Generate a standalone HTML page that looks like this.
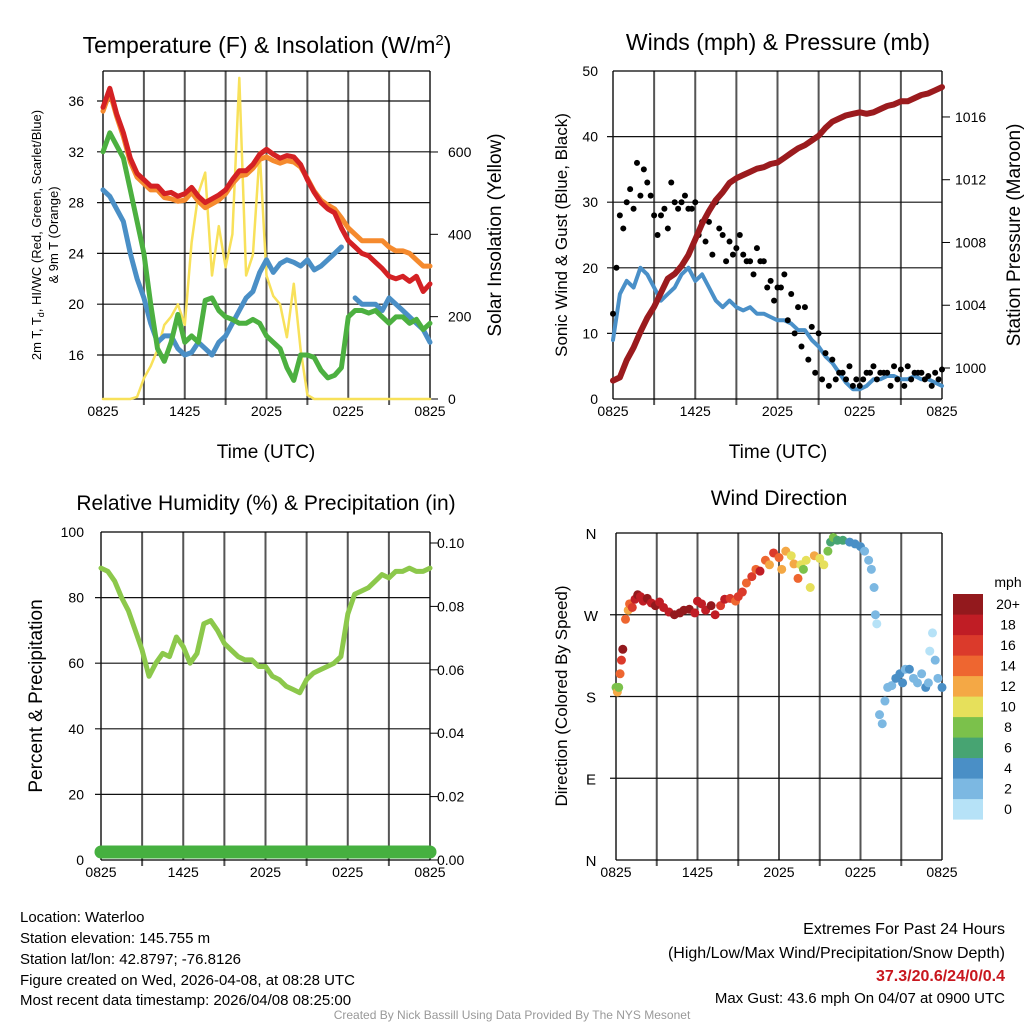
<!DOCTYPE html>
<html><head><meta charset="utf-8"><style>
html,body{margin:0;padding:0;background:#fff}
svg{display:block;font-family:"Liberation Sans",Arial,sans-serif}
</style></head><body>
<svg id="chart" width="1024" height="1024" viewBox="0 0 1024 1024" xmlns="http://www.w3.org/2000/svg">
<rect width="1024" height="1024" fill="#fff"/>
<g id="layer"></g>
<g font-size="15" fill="#000">
<text x="20" y="922">Location: Waterloo</text>
<text x="20" y="943">Station elevation: 145.755 m</text>
<text x="20" y="964">Station lat/lon: 42.8797; -76.8126</text>
<text x="20" y="985">Figure created on Wed, 2026-04-08, at 08:28 UTC</text>
<text x="20" y="1005">Most recent data timestamp: 2026/04/08 08:25:00</text>
<text x="1005" y="934" text-anchor="end" font-size="16">Extremes For Past 24 Hours</text>
<text x="1005" y="958" text-anchor="end" font-size="16">(High/Low/Max Wind/Precipitation/Snow Depth)</text>
<text x="1005" y="981" text-anchor="end" font-size="16" font-weight="bold" fill="#c8171e">37.3/20.6/24/0/0.4</text>
<text x="1005" y="1003" text-anchor="end" font-size="15">Max Gust: 43.6 mph On 04/07 at 0900 UTC</text>
<text x="512" y="1019" text-anchor="middle" font-size="12" fill="#999">Created By Nick Bassill Using Data Provided By The NYS Mesonet</text>
</g>
</svg>
<script>
// ---- data (half-hourly, hours since 0825 UTC) ----
const xTickLabels = ["0825","1425","2025","0225","0825"];
const tempRed = [35.5,37,35,33.5,31.5,30.3,29.8,29.3,29.3,28.7,28.8,28.5,28.7,29.2,28.5,28,28.3,28.6,29,29.8,30.5,30.5,31,31.8,32.2,31.8,31.5,31.7,31.6,31,29.8,28.8,28,27.5,27.2,26,25,24.5,24,23.8,23.3,22.8,22.2,22,22.2,21.8,22.2,21,21.6];
const tempOrange = [35.2,36.7,34.8,33.2,31.2,30,29.5,29,29,28.4,28.3,28.1,28.2,28.8,28.1,27.6,27.9,28.2,28.7,29.5,30.1,30.2,30.7,31.4,31.6,31.3,31.1,31.3,31.2,30.8,29.9,28.9,28.2,27.8,27.5,26.8,26,25.5,25,25,25,25,24.5,24.2,24.2,24,23.5,23,23];
const tempGreen = [32,33.5,32.5,31.5,29,26.5,24,20,16.5,15.5,17,19.2,17,17.5,17,20.3,20.5,19.5,19,18.8,18.5,18.5,18.8,18.5,17.5,17,16.5,15,14,16,16,15.8,14.8,14.2,14.4,15,19,19.5,19.5,19.3,19.5,19,18.5,19,19,18.5,18.8,18,18.5];
const tempBlue = [29,28.5,27.5,26.5,24,22,20.5,18.5,17,17.5,17.5,16.5,16,16.2,17,16.5,16,17,17.5,18.5,19.5,20.5,21,22.5,23.5,22.5,23.2,23.5,23.3,23,23.5,22.7,23,23.5,24,24.5,null,20.5,20,20,20,19.5,20.5,20,19.5,19,18.5,18,17];
const solar = [0,0,0,0,0,5,50,80,120,180,200,230,180,380,500,550,300,420,320,400,780,300,350,600,300,250,230,150,280,120,10,0,0,0,0,0,0,0,0,0,0,0,0,0,0,0,0,0,0];
const windSpeed = [9,16,18,17,20,19,17,15,16,17,19,20,18,19,17,15,14,15,14,13.5,14,13,13,12.5,12,12,11.5,10.5,10.5,9,8,6.5,5.5,4,2.5,1.5,1.5,2,3,3,3.5,3.5,3,3,3.5,3,3,2.5,2];
const gustA = [13,28,30,29,31,33,28,28,26,30,30,29,30,27,27,30,25,24,23,22,21,23,21,18,17,19,16,14,14,11,10,7,6,4,3,2,2,4,5,4,4,5,4.5,5,4,4,3.5,4,4.5];
const gustB = [20,26,32,36,35,31,25,29,33,29,31,29,25,24,22,26,21,22,25,21,19,21,17,15,17,12,10,8,6,4,3,2,3,4,5,3,3,4,3,4,2,3,2,3,4,3,2,3];
const pressure = [999.2,999.4,1000.5,1001.3,1002.3,1003.2,1003.9,1004.8,1005.7,1006,1006.5,1007.2,1008.2,1009.2,1010,1010.7,1011.2,1011.8,1012.1,1012.3,1012.5,1012.7,1012.8,1013,1013.1,1013.4,1013.7,1014,1014.2,1014.5,1014.8,1015.3,1015.7,1015.9,1016.1,1016.2,1016.3,1016.2,1016.3,1016.5,1016.7,1016.8,1017,1017,1017.2,1017.4,1017.5,1017.7,1017.9];
const rh = [89,88,85,80,76,70,64,56,60,63,62,68,65,60,63,72,73,70,66,64,62,61,61,59,59,56,55,53,52,51,55,57,58,59,60,62,75,81,82,83,85,87,86,88,88,89,88,88,89];
const precip = [0,0,0,0,0,0,0,0,0,0,0,0,0,0,0,0,0,0,0,0,0,0,0,0,0,0,0,0,0,0,0,0,0,0,0,0,0,0,0,0,0,0,0,0,0,0,0,0,0];
const dirHours = [0,0.1,0.2,0.3,0.4,0.5,0.7,0.9,1,1.2,1.4,1.6,1.8,2,2.3,2.6,2.9,3.2,3.5,3.9,4.3,4.7,5,5.4,5.8,6,6.3,6.6,7,7.3,7.7,8,8.4,8.8,9,9.3,9.6,10,10.3,10.6,11,11.3,11.6,12,12.2,12.5,12.9,13.1,13.4,13.6,13.8,14,14.3,14.6,15,15.3,15.6,15.8,16,16.3,16.7,17.2,17.6,18,18.3,18.6,18.8,19,19.1,19.2,19.4,19.6,19.8,20,20.3,20.6,20.9,21.1,21.3,21.6,21.9,22.2,22.5,22.8,23,23.1,23.3,23.5,23.7,24];
const dirDeg = [190,185,190,205,220,232,265,275,282,278,287,292,290,285,288,283,280,284,278,273,270,272,275,276,272,285,282,275,280,270,280,287,288,285,290,295,305,312,320,318,330,325,338,333,320,340,335,326,310,325,320,330,300,335,332,325,340,350,355,352,352,350,348,345,340,330,320,300,270,260,160,150,175,190,192,200,205,195,210,210,200,195,205,190,195,230,250,220,200,190];
const dirSpeed = [8,12,8,14,16,20,14,12,13,16,18,20,18,17,19,18,20,18,17,18,20,20,19,20,18,18,17,18,19,18,16,17,16,14,16,15,14,15,13,17,14,12,16,13,12,12,10,11,14,9,7,9,10,11,10,10,7,6,8,5,6,4,4,3,2,2,2,1,1,0,1,2,1,1,2,4,4,3,2,3,2,2,2,3,2,0,0,1,2,4];
const speedColors = ["#b6e2f7","#7cb8e2","#4a8fc6","#47a472","#7bc14b","#e6e05b","#f4a845","#ee6630","#db3a2b","#c01d25","#93191d"];
const speedLabels = ["0","2","4","6","8","10","12","14","16","18","20+"];

const NS="http://www.w3.org/2000/svg";
const layer=document.getElementById('layer');
function mk(tag,attrs,parent){const e=document.createElementNS(NS,tag);for(const k in attrs)e.setAttribute(k,attrs[k]);(parent||layer).appendChild(e);return e;}
function txt(s,attrs,parent){const e=mk('text',attrs,parent);e.textContent=s;return e;}

function frame(g,P,hLines,rightMinor){
  // vertical grid
  for(let k=0;k<=8;k++){const x=P.x0+(P.x1-P.x0)*k/8;
    const l=mk('line',{x1:x,y1:P.y0,x2:x,y2:P.y1+(k%2==0?0:6),stroke:'#555','stroke-width':2},g);
    }
  hLines.forEach(y=>{const l=mk('line',{x1:P.x0-6,y1:y,x2:P.x1,y2:y,stroke:'#111','stroke-width':1.2},g);
    });
  mk('line',{x1:P.x0,y1:P.y0,x2:P.x1,y2:P.y0,stroke:'#000','stroke-width':1.2},g);
  mk('line',{x1:P.x0,y1:P.y1,x2:P.x1,y2:P.y1,stroke:'#000','stroke-width':1.2},g);
  xTickLabels.forEach((s,k)=>{const t=txt(s,{x:P.x0+(P.x1-P.x0)*k/4,y:P.y1+17,'font-size':14,'text-anchor':'middle'},g);
    });
}
function linePath(g,vals,xf,yf,color,w,name){
  let d='',pen=false;
  vals.forEach((v,i)=>{if(v===null){pen=false;return;}d+=(pen?'L':'M')+xf(i/2).toFixed(1)+' '+yf(v).toFixed(1);pen=true;});
  const p=mk('path',{d:d,fill:'none',stroke:color,'stroke-width':w,'stroke-linejoin':'round','stroke-linecap':'round'},g);
  return p;
}

// ---------- Panel 1: Temperature ----------
{
  const g=mk('g',{});
  const P={x0:103,x1:430,y0:71,y1:399};
  const X=h=>P.x0+(P.x1-P.x0)*h/24;
  const Y=v=>101+(36-v)*12.7;
  const YS=v=>399-v*0.4117;
  const yt=[16,20,24,28,32,36];
  frame(g,P,yt.map(Y));
  yt.forEach(v=>{const t=txt(String(v),{x:84,y:Y(v)+5,'font-size':14,'text-anchor':'end'},g);});
  [0,200,400,600].forEach(v=>{mk('line',{x1:P.x1,y1:YS(v),x2:P.x1+8,y2:YS(v),stroke:'#000'},g);const t=txt(String(v),{x:448,y:YS(v)+5,'font-size':14},g);});
  linePath(g,solar,X,YS,'#f8e15a',2.5,'solar-line');
  linePath(g,tempBlue,X,Y,'#4a8fc6',5,'hiwc-line');
  linePath(g,tempGreen,X,Y,'#4cb040',5,'dewpoint-line');
  linePath(g,tempOrange,X,Y,'#f58a2e',5,'temp-9m-line');
  linePath(g,tempRed,X,Y,'#d42124',5,'temp-2m-line');
  const t1=txt('',{x:267,y:53,'font-size':23,'text-anchor':'middle'},g);
  t1.innerHTML='Temperature (F) &amp; Insolation (W/m<tspan dy="-8" font-size="15">2</tspan><tspan dy="8">)</tspan>';
  const a=txt('',{transform:'translate(41,235) rotate(-90)','font-size':13,'text-anchor':'middle'},g);
  a.innerHTML='2m T, T<tspan dy="3" font-size="9">d</tspan><tspan dy="-3">, HI/WC (Red, Green, Scarlet/Blue)</tspan>';
  
  const a2=txt('& 9m T (Orange)',{transform:'translate(58,235) rotate(-90)','font-size':13,'text-anchor':'middle'},g);
  
  const r=txt('Solar Insolation (Yellow)',{transform:'translate(501,235) rotate(-90)','font-size':19,'text-anchor':'middle'},g);
  
  const xt=txt('Time (UTC)',{x:266,y:458,'font-size':19,'text-anchor':'middle'},g);
  
}

// ---------- Panel 2: Winds ----------
{
  const g=mk('g',{});
  const P={x0:613,x1:942,y0:71,y1:399};
  const X=h=>P.x0+(P.x1-P.x0)*h/24;
  const Y=v=>399-v*6.56;
  const YP=v=>368-(v-1000)*15.69;
  frame(g,P,[10,20,30,40].map(Y));
  [0,10,20,30,40,50].forEach(v=>{const t=txt(String(v),{x:598,y:Y(v)+5,'font-size':14,'text-anchor':'end'},g);});
  [1000,1004,1008,1012,1016].forEach(v=>{mk('line',{x1:P.x1,y1:YP(v),x2:P.x1+8,y2:YP(v),stroke:'#000'},g);const t=txt(String(v),{x:955,y:YP(v)+5,'font-size':14},g);});
  linePath(g,windSpeed,X,Y,'#4a90c8',4,'wind-speed-line');
  gustA.forEach((v,i)=>{const c=mk('circle',{cx:X(i/2),cy:Y(v),r:3,fill:'#000'},g);});
  gustB.forEach((v,i)=>{const c=mk('circle',{cx:X(i/2+0.25),cy:Y(v),r:3,fill:'#000'},g);});
  linePath(g,pressure,X,YP,'#9b1b1e',6,'pressure-line');
  const t1=txt('Winds (mph) & Pressure (mb)',{x:778,y:50,'font-size':23,'text-anchor':'middle'},g);
  const a=txt('Sonic Wind & Gust (Blue, Black)',{transform:'translate(567,235) rotate(-90)','font-size':17,'text-anchor':'middle'},g);
  const r=txt('Station Pressure (Maroon)',{transform:'translate(1020,235) rotate(-90)','font-size':19,'text-anchor':'middle'},g);
  const xt=txt('Time (UTC)',{x:778,y:458,'font-size':19,'text-anchor':'middle'},g);
}

// ---------- Panel 3: RH ----------
{
  const g=mk('g',{});
  const P={x0:101,x1:430,y0:532,y1:860};
  const X=h=>P.x0+(P.x1-P.x0)*h/24;
  const Y=v=>860-v*3.28;
  const YR=v=>860-v*3170;
  frame(g,P,[20,40,60,80].map(Y));
  [0,20,40,60,80,100].forEach(v=>{const t=txt(String(v),{x:84,y:Y(v)+5,'font-size':14,'text-anchor':'end'},g);});
  [0,0.02,0.04,0.06,0.08,0.10].forEach(v=>{mk('line',{x1:P.x1,y1:YR(v),x2:P.x1+8,y2:YR(v),stroke:'#000'},g);const t=txt(v.toFixed(2),{x:437,y:YR(v)+5,'font-size':14},g);});
  linePath(g,rh,X,Y,'#8cc84b',5,'rh-line');
  linePath(g,precip.map(v=>v),X,v=>YR(v)-8,'#46b040',13,'precip-line');
  const t1=txt('Relative Humidity (%) & Precipitation (in)',{x:266,y:510,'font-size':21,'text-anchor':'middle'},g);
  const a=txt('Percent & Precipitation',{transform:'translate(42,696) rotate(-90)','font-size':19,'text-anchor':'middle'},g);
}

// ---------- Panel 4: Wind Direction ----------
{
  const g=mk('g',{});
  const P={x0:616,x1:942,y0:533,y1:860};
  const X=h=>P.x0+(P.x1-P.x0)*h/24;
  const Y=d=>860-d*(327/360);
  frame(g,P,[90,180,270].map(Y));
  ["N","E","S","W","N"].forEach((s,k)=>{const t=txt(s,{x:591,y:Y(k*90)+6,'font-size':15,'text-anchor':'middle'},g);});
  dirHours.forEach((h,i)=>{const ci=Math.min(10,Math.round(dirSpeed[i]/2));
    const c=mk('circle',{cx:X(h),cy:Y(dirDeg[i]),r:4.5,fill:speedColors[ci]},g);
    });
  const cb=mk('g',{},g);
  for(let k=0;k<11;k++){const y=594+(10-k)*20.5;
    const r=mk('rect',{x:953,y:y,width:30,height:20.6,fill:speedColors[k]},cb);
    const t=txt(speedLabels[k],{x:1008,y:y+15,'font-size':14,'text-anchor':'middle'},cb);}
  const u=txt('mph',{x:1008,y:587,'font-size':14,'text-anchor':'middle'},g);
  const t1=txt('Wind Direction',{x:779,y:505,'font-size':21,'text-anchor':'middle'},g);
  const a=txt('Direction (Colored By Speed)',{transform:'translate(567,696) rotate(-90)','font-size':17,'text-anchor':'middle'},g);
}
</script>
</body></html>
